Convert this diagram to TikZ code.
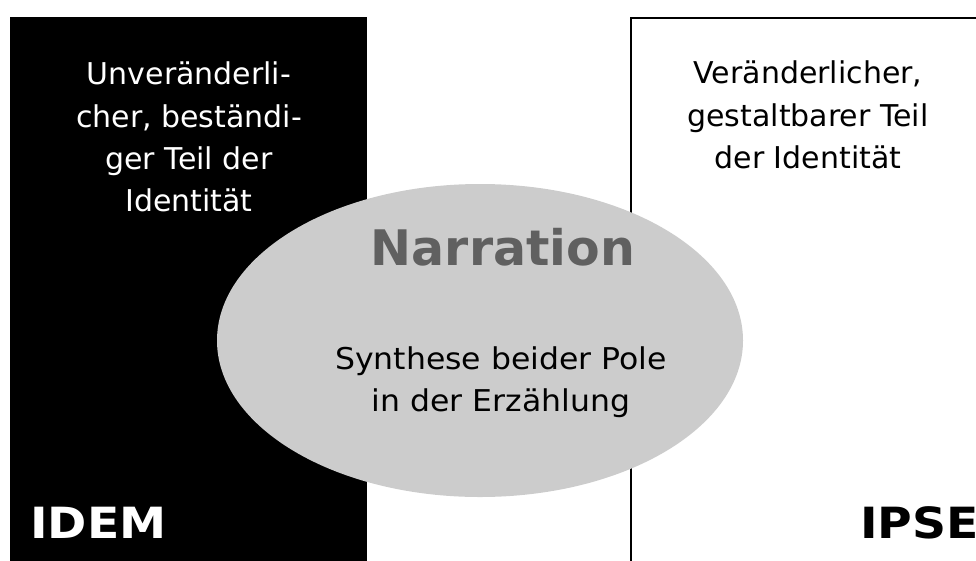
\documentclass[tikz,border=0pt]{standalone}
\usepackage{fontspec}
\setmainfont{DejaVu Sans}
\usetikzlibrary{shapes.geometric}
\definecolor{ovalgray}{HTML}{CCCCCC}
\definecolor{titlegray}{HTML}{606060}
\tikzset{
  body/.style={font=\fontsize{30}{42.3}\selectfont, align=center, inner sep=0},
  pole/.style={font=\fontsize{43}{50}\selectfont\bfseries, inner sep=0},
}
\begin{document}
\begin{tikzpicture}[x=1pt,y=-1pt]
  \useasboundingbox (0,0) rectangle (976,560);
  \clip (0,0) rectangle (976,560);
  % the two poles
  \node[fill=black, minimum width=357, minimum height=560, inner sep=0, anchor=north west] (idembox) at (10,17) {};
  \node[draw=black, line width=2, fill=white, minimum width=400, minimum height=560, inner sep=0, anchor=north west] (ipsebox) at (630,17) {};
  % the narration between them
  \node[ellipse, fill=ovalgray, minimum width=526, minimum height=313, inner sep=0] (oval) at (480,340.5) {};
  % texts
  \node[body, text=white] (idemtext) at (189,137) {Unveränderli-\\cher, beständi-\\ger Teil der\\Identität};
  \node[body] (ipsetext) at (808,115) {Veränderlicher,\\gestaltbarer Teil\\der Identität};
  \node[font=\fontsize{49}{56}\selectfont\bfseries, text=titlegray, anchor=base, inner sep=0] (narr) at (503,265) {Narration};
  \node[body] (synth) at (501,382) {\scalebox{1.05}[1]{Synthese beider Pole}\\\scalebox{1.05}[1]{in der Erzählung}};
  \node[pole, text=white, anchor=base west] (idem) at (30,538) {\scalebox{1.1}[1]{IDEM}};
  \node[pole, anchor=base west] (ipse) at (860,538) {\scalebox{1.1}[1]{IPSE}};
\end{tikzpicture}
\end{document}
